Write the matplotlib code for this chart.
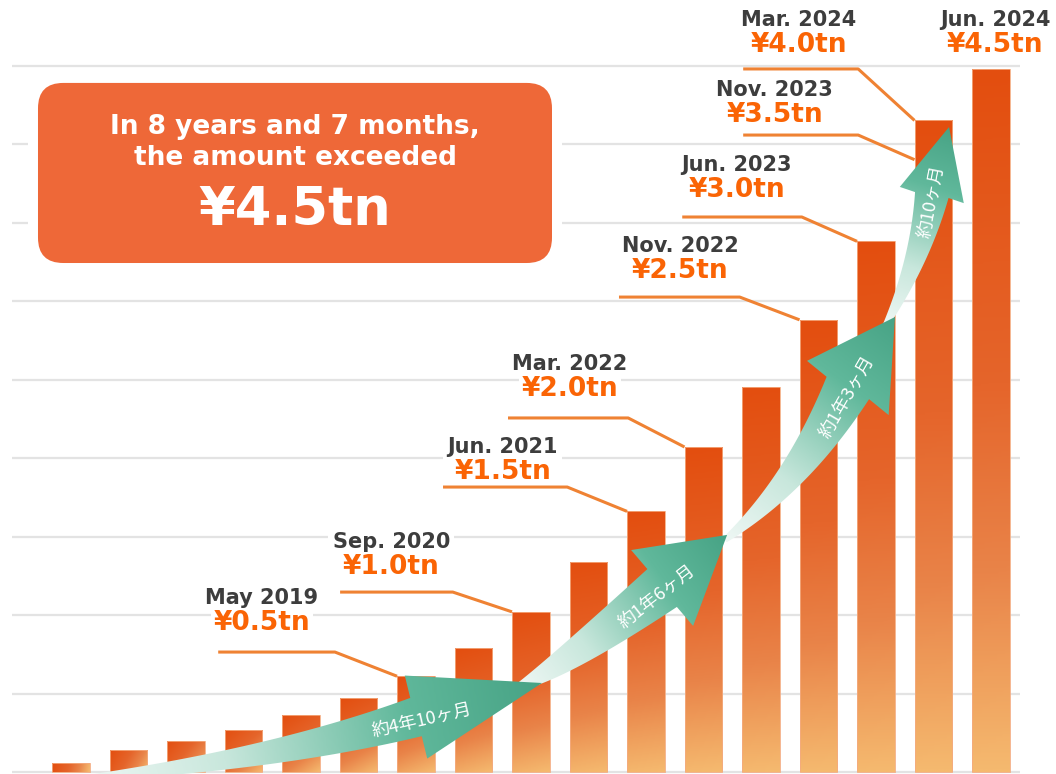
import numpy as np
import matplotlib
matplotlib.use('Agg')
import matplotlib.pyplot as plt
from matplotlib.colors import LinearSegmentedColormap
from matplotlib.patches import Polygon, FancyBboxPatch

# cumulative amount in trillion yen, one bar per period
amounts = [0.06, 0.14, 0.20, 0.27, 0.36, 0.47, 0.61, 0.79, 1.02, 1.34, 1.66,
           2.07, 2.45, 2.88, 3.38, 4.15, 4.48]

# milestones
dates = ['May 2019', 'Sep. 2020', 'Jun. 2021', 'Mar. 2022', 'Nov. 2022',
         'Jun. 2023', 'Nov. 2023', 'Mar. 2024', 'Jun. 2024']
labels = ['¥0.5tn', '¥1.0tn', '¥1.5tn', '¥2.0tn', '¥2.5tn',
          '¥3.0tn', '¥3.5tn', '¥4.0tn', '¥4.5tn']
bar_of = [6, 8, 10, 11, 13, 14, 15, 15, 16]

spans = ['約4年10ヶ月', '約1年6ヶ月', '約1年3ヶ月', '約10ヶ月']

# layout of the callouts (data units)
lab_x = [3.32, 5.57, 7.51, 8.68, 10.59, 11.58, 12.24, 12.66, 16.07]
lab_y = [1.11, 1.465, 2.07, 2.60, 3.35, 3.866, 4.344, 4.79, 4.79]
line_y = [0.764, 1.146, 1.815, 2.255, 3.025, 3.535, 4.057, 4.478, None]
line_x0 = [2.56, 4.68, 6.47, 7.60, 9.53, 10.63, 11.69, 11.69, None]
line_x1 = [4.59, 6.64, 8.63, 9.69, 11.63, 12.71, 13.69, 13.69, None]
end_drop = [0, 0, 0, 0, 0, 0, 0.25, 0, 0]

# arrows: tail, control, head base, tip, half widths (px) tail / base / head
arrows = [
    ((0.243, -0.04), (3.574, 0.083), (6.0, 0.350), (8.19, 0.567), 3, 20, 43),
    ((7.81, 0.548), (8.49, 0.662), (10.28, 1.172), (11.41, 1.510), 4, 24, 49),
    ((11.37, 1.478), (12.63, 1.834), (13.51, 2.446), (14.33, 2.898), 3, 24, 49),
    ((14.17, 2.847), (14.77, 3.261), (14.97, 3.675), (15.27, 4.108), 3, 17, 33),
]
span_pos = [(6.10, 0.331, 13), (10.19, 1.115, 38), (13.50, 2.389, 60), (14.96, 3.631, 79)]

fig = plt.figure(figsize=(10.56, 7.74), dpi=100)
ax = fig.add_axes([12 / 1056, 0, 1008 / 1056, 1])
ax.set_xlim(-1.026, 16.504)
ax.set_ylim(-2 / 157, 772 / 157)
ax.set_autoscale_on(False)
for s in ax.spines.values():
    s.set_visible(False)
ax.set_yticks(np.arange(0, 4.6, 0.5))
ax.set_xticks([])
ax.tick_params(length=0, labelleft=False)
ax.grid(axis='y', color='#e3e3e3', linewidth=1.6)
ax.set_axisbelow(True)

bar_cmap = LinearSegmentedColormap.from_list(
    'bar', [(0, '#e34e0f'), (0.45, '#e5652b'), (0.72, '#e98449'), (1, '#f5b96f')])
green_cmap = LinearSegmentedColormap.from_list(
    'arr', [(0, '#eef7f4'), (0.3, '#c8e7dc'), (0.52, '#8fcdb8'), (0.7, '#60b89b'), (1, '#47a385')])

x = np.arange(len(amounts))
bars = ax.bar(x, amounts, width=0.66, color='none', edgecolor='#f4ab80', linewidth=0.6, zorder=2)
for rect in bars:
    x0, w, h = rect.get_x(), rect.get_width(), rect.get_height()
    wp = w * 57.5
    hp = max(h * 157, 1)
    hh, vv = np.meshgrid(np.linspace(0, 1, 30), np.linspace(0, 1, 120))
    s = (wp**2 * hh + hp**2 * vv) / (wp**2 + hp**2)
    im = ax.imshow(s, cmap=bar_cmap, vmin=0, vmax=1, extent=[x0, x0 + w, 0, h],
                   origin='upper', aspect='auto', interpolation='bilinear', zorder=1.9)
    im.set_clip_path(rect)

# callouts
for i in range(len(dates)):
    ax.text(lab_x[i], lab_y[i], dates[i], ha='center', va='center', fontsize=15,
            fontweight='bold', color='#3d3d3d', zorder=2.8,
            bbox=dict(boxstyle='square,pad=0.2', fc='white', ec='none'))
    ax.text(lab_x[i], lab_y[i] - 0.162, labels[i], ha='center', va='center', fontsize=19,
            fontweight='bold', color='#fa6405', zorder=2.8,
            bbox=dict(boxstyle='square,pad=0.1', fc='white', ec='none'))
    if line_y[i] is None:
        continue
    b = bars[bar_of[i]]
    ex, ey = b.get_x(), b.get_height() - end_drop[i]
    ax.plot([line_x0[i], line_x1[i], ex], [line_y[i], line_y[i], ey],
            color='#ef8233', lw=2.2, solid_capstyle='butt', zorder=3)


def arrow_shape(p0, p1, p2, tip, w0, w1, hw):
    P = ax.transData.transform(np.array([p0, p1, p2, tip], dtype=float))
    t = np.linspace(0, 1, 80)[:, None]
    c = (1 - t)**2 * P[0] + 2 * (1 - t) * t * P[1] + t**2 * P[2]
    d = 2 * (1 - t) * (P[1] - P[0]) + 2 * t * (P[2] - P[1])
    d = d / np.linalg.norm(d, axis=1)[:, None]
    n = np.column_stack([-d[:, 1], d[:, 0]])
    w = w0 + (w1 - w0) * t
    left = c + n * w
    right = c - n * w
    hd = (P[3] - P[2]) / np.linalg.norm(P[3] - P[2])
    hn = np.array([-hd[1], hd[0]])
    head = np.array([P[2] + hn * hw, P[3], P[2] - hn * hw])
    pts = np.vstack([left, head, right[::-1]])
    return pts, P[0], P[3]


inv = ax.transData.inverted()
for k in range(len(arrows) - 1, -1, -1):
    p0, p1, p2, tip, w0, w1, hw = arrows[k]
    pts, a, z = arrow_shape(p0, p1, p2, tip, w0, w1, hw)
    xmin, ymin = pts.min(axis=0)
    xmax, ymax = pts.max(axis=0)
    gx, gy = np.meshgrid(np.linspace(xmin, xmax, 200), np.linspace(ymin, ymax, 200))
    v = z - a
    tt = ((gx - a[0]) * v[0] + (gy - a[1]) * v[1]) / (v @ v)
    tt = np.clip(tt, 0, 1)
    dpts = inv.transform(pts)
    lo = inv.transform([xmin, ymin])
    hi = inv.transform([xmax, ymax])
    poly = Polygon(dpts, closed=True, fc='none', ec='none')
    ax.add_patch(poly)
    im = ax.imshow(tt, cmap=green_cmap, vmin=0, vmax=1, extent=[lo[0], hi[0], lo[1], hi[1]],
                   origin='lower', aspect='auto', interpolation='bilinear', zorder=5 + (3 - k) * 0.1)
    im.set_clip_path(poly)

for k, txt in enumerate(spans):
    sx, sy, rot = span_pos[k]
    ax.text(sx, sy, txt, ha='center', va='center', rotation=rot, rotation_mode='anchor',
            fontsize=13, color='white', family=['Noto Sans CJK JP', 'DejaVu Sans'], zorder=7)

# summary box
asp = 57.5 / 157
ax.add_patch(FancyBboxPatch((-0.748, 3.178), 9.287, 1.275, boxstyle='round,pad=0,rounding_size=0.6',
                            mutation_aspect=asp, fc='white', ec='none', zorder=4))
ax.add_patch(FancyBboxPatch((-0.574, 3.242), 8.939, 1.147, boxstyle='round,pad=0,rounding_size=0.44',
                            mutation_aspect=asp, fc='#ee6838', ec='none', zorder=4.5))
ax.text(3.896, 4.108, 'In 8 years and 7 months,', ha='center', va='center', fontsize=19,
        fontweight='bold', color='white', zorder=6)
ax.text(3.896, 3.911, 'the amount exceeded', ha='center', va='center', fontsize=19,
        fontweight='bold', color='white', zorder=6)
ax.text(3.896, 3.58, '¥4.5tn', ha='center', va='center', fontsize=38,
        fontweight='bold', color='white', zorder=6)

fig.savefig('out.png', dpi=100)
